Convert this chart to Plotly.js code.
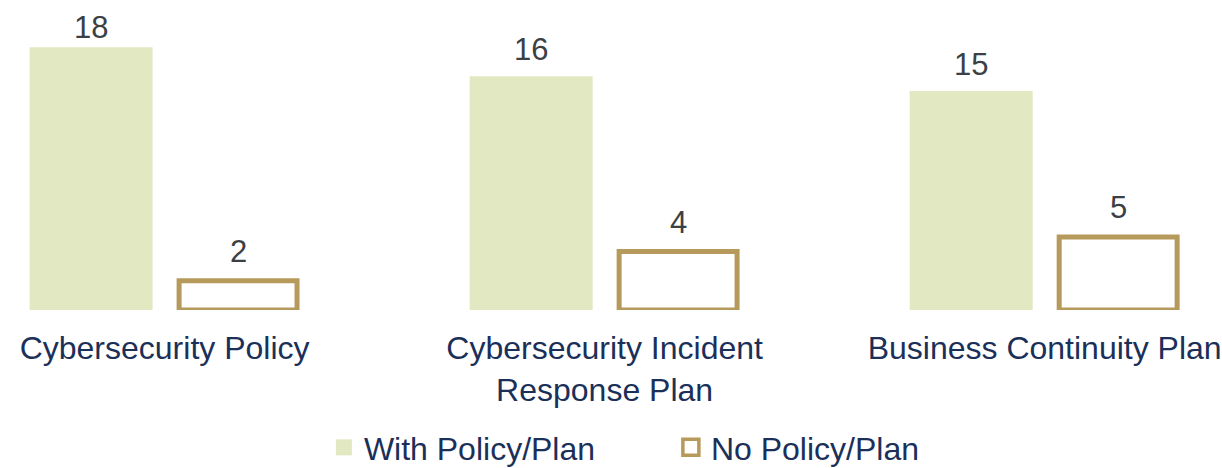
<!DOCTYPE html>
<html>
<head>
<meta charset="utf-8">
<script src="https://cdn.plot.ly/plotly-3.0.1.min.js"></script>
<style>html,body{margin:0;padding:0;background:#fff;}#chart{width:1222px;height:468px;}</style>
</head>
<body>
<div id="chart"></div>
<script>
const categories = ["Cybersecurity Policy", "Cybersecurity Incident<br>Response Plan", "Business Continuity Plan"];
const withPlan = [18, 16, 15];
const noPlan = [2, 4, 5];
const seriesNames = ["With Policy/Plan", "No Policy/Plan"];

const FONT = "Liberation Sans, Arial, sans-serif";
const NAVY = "#1B3059";
const LABEL = "#3B4045";
const GREEN = "#E1E8C2";
const GOLD = "#B59A5C";
const LABEL_MAX = 17.52; // value labels are kept inside the top of the chart

const traces = [
  {
    type: "bar", name: seriesNames[0], x: categories, y: withPlan,
    marker: {color: GREEN, line: {width: 0}},
    width: 0.2795, showlegend: false, hoverinfo: "x+y"
  },
  {
    type: "bar", name: seriesNames[1], x: categories, y: noPlan,
    marker: {color: "#FFFFFF", line: {color: GOLD, width: 5}},
    width: 0.268, showlegend: false, hoverinfo: "x+y"
  },
  {
    type: "scatter", mode: "markers", name: seriesNames[0],
    x: [categories[0]], y: [null], hoverinfo: "skip",
    marker: {symbol: "square", size: 17, color: GREEN, line: {width: 0}}
  },
  {
    type: "scatter", mode: "markers", name: seriesNames[1],
    x: [categories[0]], y: [null], hoverinfo: "skip",
    marker: {symbol: "square", size: 17, color: "#FFFFFF", line: {color: GOLD, width: 3.5}}
  }
];

function valueLabels(values, xshift, yshift) {
  return values.map((v, i) => ({
    x: categories[i], y: Math.min(v, LABEL_MAX), xref: "x", yref: "y",
    text: String(v), showarrow: false, xanchor: "center", yanchor: "bottom",
    xshift: xshift, yshift: yshift,
    font: {family: FONT, size: 31, color: LABEL}
  }));
}

const layout = {
  width: 1222, height: 468,
  margin: {l: 0, r: 0, t: 0, b: 158, autoexpand: false},
  paper_bgcolor: "#FFFFFF", plot_bgcolor: "#FFFFFF",
  font: {family: FONT, color: NAVY, size: 32},
  barmode: "group", bargap: 0.332,
  xaxis: {
    type: "category", range: [-0.374, 2.403],
    showgrid: false, zeroline: false, showline: false, ticks: "",
    tickfont: {family: FONT, size: 32, color: NAVY},
    ticklabelstandoff: 16, automargin: false,
    fixedrange: true
  },
  yaxis: {
    range: [0, 21.23], showgrid: false, zeroline: false, showline: false,
    showticklabels: false, ticks: "", fixedrange: true, automargin: false
  },
  annotations: valueLabels(withPlan, -73.5, 7).concat(valueLabels(noPlan, 73.5, 9.5)),
  showlegend: true,
  legend: {
    orientation: "h", x: 0.549, xanchor: "center", y: -0.355, yanchor: "top",
    font: {family: FONT, size: 32, color: NAVY},
    entrywidth: 302, entrywidthmode: "pixels", itemsizing: "trace"
  }
};

Plotly.newPlot("chart", traces, layout, {displayModeBar: false, staticPlot: true});
</script>
</body>
</html>
